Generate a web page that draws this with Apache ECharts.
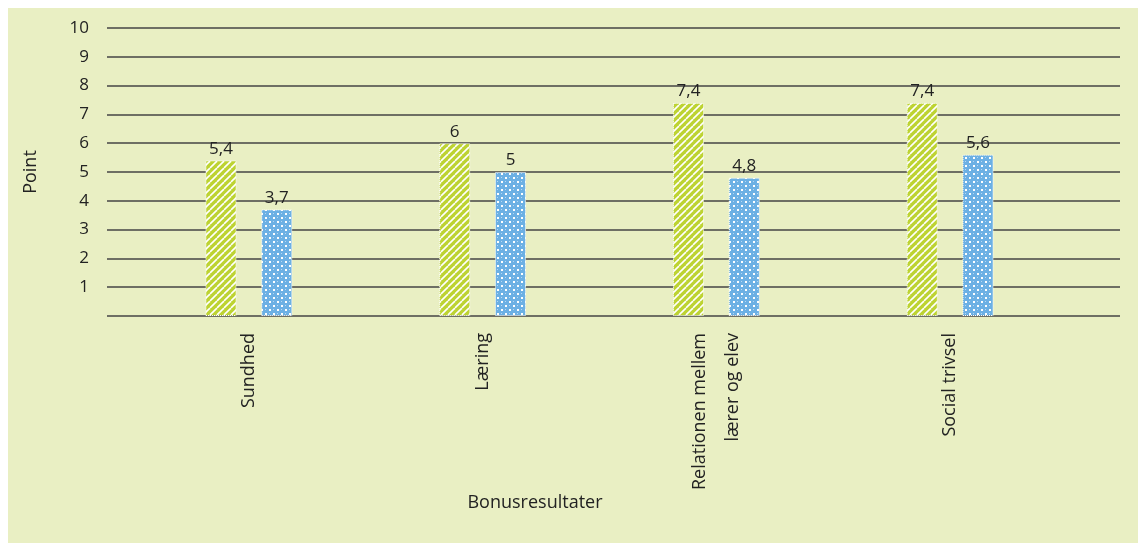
<!DOCTYPE html>
<html>
<head>
<meta charset="utf-8">
<style>
html,body{margin:0;padding:0;background:#fff;}
#c{width:1138px;height:543px;}
</style>
<script src="https://cdn.jsdelivr.net/npm/echarts@6/dist/echarts.min.js"></script>
</head>
<body>
<div id="c"></div>
<script>
const categories = ['Sundhed', 'Læring', 'Relationen mellem\nlærer og elev', 'Social trivsel'];
const seriesA = [5.4, 6, 7.4, 7.4];
const seriesB = [3.7, 5, 4.8, 5.6];
const yTicks = [0, 1, 2, 3, 4, 5, 6, 7, 8, 9, 10];

function stripes() {
  const c = document.createElement('canvas');
  c.width = 7; c.height = 7;
  const g = c.getContext('2d');
  g.fillStyle = '#bdd332'; g.fillRect(0, 0, 7, 7);
  g.strokeStyle = '#ffffff'; g.lineWidth = 1.6;
  for (let k = -7; k <= 14; k += 7) {
    g.beginPath(); g.moveTo(k, 7); g.lineTo(k + 7, 0); g.stroke();
  }
  return c;
}
function dots() {
  const c = document.createElement('canvas');
  c.width = 8; c.height = 8;
  const g = c.getContext('2d');
  g.fillStyle = '#6cb0e4'; g.fillRect(0, 0, 8, 8);
  g.fillStyle = '#ffffff';
  g.fillRect(1, 1, 2, 2);
  g.fillRect(5, 5, 2, 2);
  g.globalAlpha = 0.5;
  g.fillRect(5, 1, 1, 1);
  g.fillRect(1, 5, 1, 1);
  return c;
}

const font = '"Open Sans", "DejaVu Sans", sans-serif';
const chart = echarts.init(document.getElementById('c'));
const lbl = {
  show: true, position: 'top', distance: 3, color: '#222', fontSize: 17, fontFamily: font,
  formatter: p => String(p.value).replace('.', ',')
};
chart.setOption({
  backgroundColor: '#ffffff',
  animation: false,
  graphic: [{ type: 'rect', z: -10, shape: { x: 8, y: 8, width: 1130, height: 535 }, style: { fill: '#e9efc3' }, silent: true }],
  title: {
    text: 'Bonusresultater', left: 530, top: 489, textAlign: 'center',
    textStyle: { fontSize: 18, fontWeight: 'normal', color: '#222', fontFamily: font }
  },
  grid: [
    { left: 107, right: 18, top: 28, bottom: 227 },
    { left: 132, right: 71, top: 28, bottom: 227 }
  ],
  xAxis: [
    { type: 'category', gridIndex: 0, show: false, data: ['x'] },
    {
      type: 'category', gridIndex: 1, data: categories,
      axisLine: { show: false }, axisTick: { show: false },
      axisLabel: { rotate: 90, margin: 17, fontSize: 18, color: '#222', fontFamily: font, lineHeight: 33 }
    }
  ],
  yAxis: [
    {
      type: 'value', gridIndex: 0, min: 0, max: 10, interval: 1,
      name: 'Point', nameLocation: 'middle', nameGap: 67,
      nameTextStyle: { fontSize: 18, color: '#222', fontFamily: font },
      axisLine: { show: false }, axisTick: { show: false },
      axisLabel: { margin: 18, fontSize: 17, color: '#222', fontFamily: font,
        formatter: v => (v === 0 ? '' : String(v)) },
      splitLine: { lineStyle: { color: '#454545', width: 1.5 } }
    },
    { type: 'value', gridIndex: 1, min: 0, max: 10, interval: 1, show: false, splitLine: { show: false } }
  ],
  series: [
    {
      name: 'Serie 1', type: 'bar', xAxisIndex: 1, yAxisIndex: 1, data: seriesA,
      barWidth: 31, barGap: '80%',
      itemStyle: { color: { image: stripes(), repeat: 'repeat' }, borderColor: '#ffffff', borderWidth: 1, borderType: 'dotted' },
      label: lbl
    },
    {
      name: 'Serie 2', type: 'bar', xAxisIndex: 1, yAxisIndex: 1, data: seriesB,
      barWidth: 31,
      itemStyle: { color: { image: dots(), repeat: 'repeat' }, borderColor: '#ffffff', borderWidth: 1, borderType: 'dotted' },
      label: lbl
    }
  ]
});
</script>
</body>
</html>
